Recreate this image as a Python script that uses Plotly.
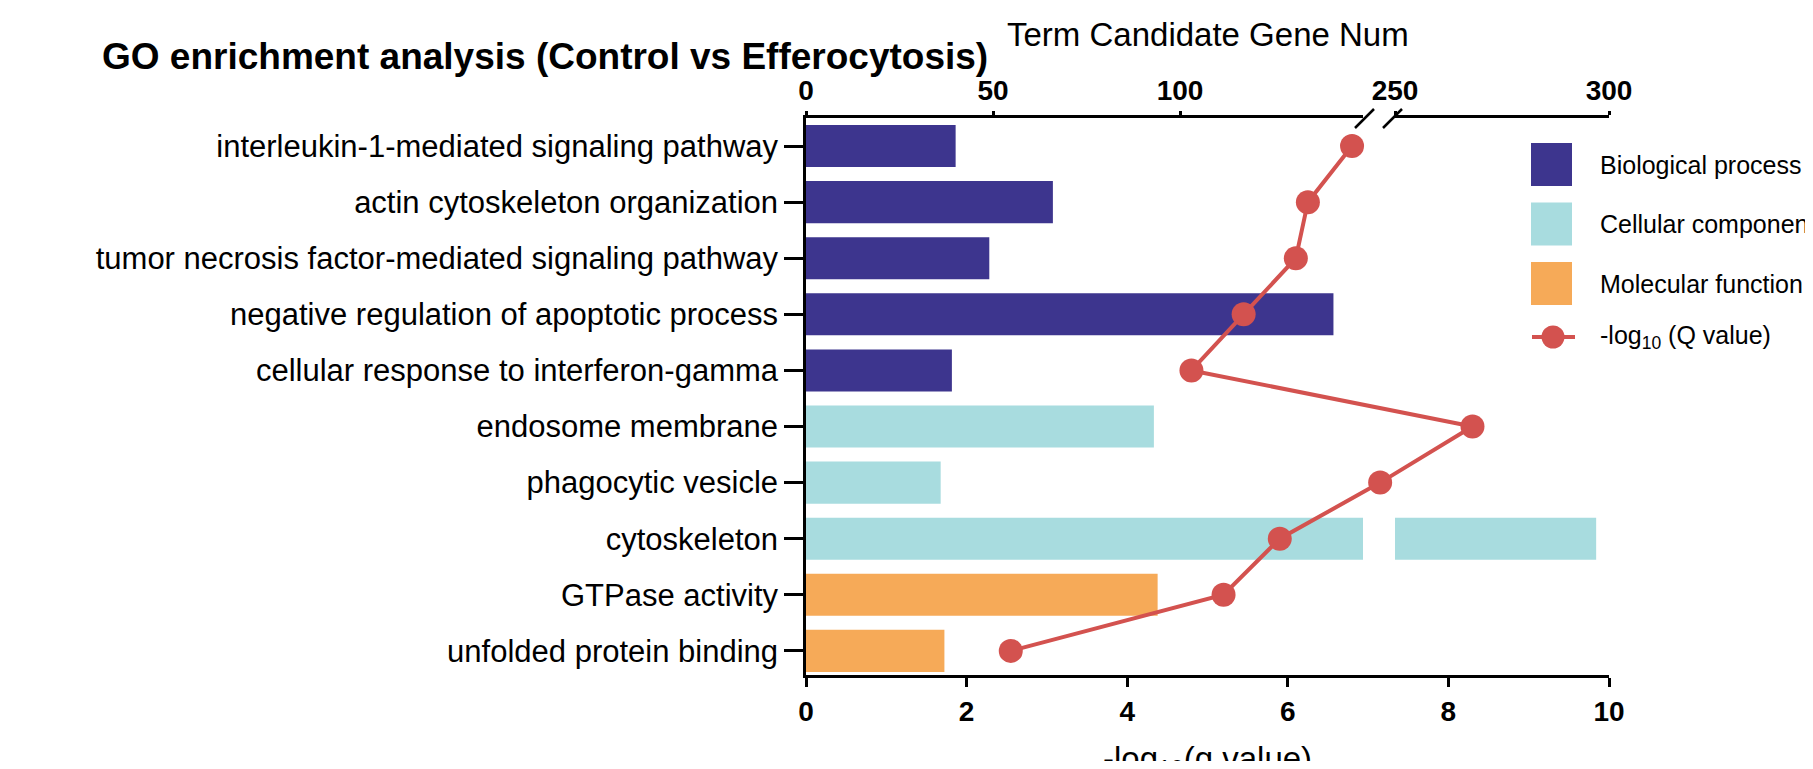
import plotly.graph_objects as go


terms = [
    "interleukin-1-mediated signaling pathway",
    "actin cytoskeleton organization",
    "tumor necrosis factor-mediated signaling pathway",
    "negative regulation of apoptotic process",
    "cellular response to interferon-gamma",
    "endosome membrane",
    "phagocytic vesicle",
    "cytoskeleton",
    "GTPase activity",
    "unfolded protein binding",
]
groups = ["Biological process"] * 5 + ["Cellular component"] * 3 + ["Molecular function"] * 2
gene_num = [40, 66, 49, 141, 39, 93, 36, 297, 94, 37]
neg_log_q = [6.8, 6.25, 6.1, 5.45, 4.8, 8.3, 7.15, 5.9, 5.2, 2.55]

group_names = ["Biological process", "Cellular component", "Molecular function"]
group_colors = ["#3D358E", "#A8DCDF", "#F6AA58"]
q_label = "-log<sub>10</sub> (Q value)"

top_ticks_left = [0, 50, 100]
top_ticks_right = [250, 300]
bottom_ticks = [0, 2, 4, 6, 8, 10]

FONT = "Liberation Sans, Arial, sans-serif"
RED = "#D3524F"


# window pixel -> paper coords (plot area is 806..1609 x 118..675 in the window)
def px(x):
    return (x - 806) / 803


def py(y):
    return (675 - y) / 557


color_of = dict(zip(group_names, group_colors))
bar_colors = [color_of[g] for g in groups]

fig = go.Figure()

# same bars on both halves of the broken top axis
for ax in ["x", "x2"]:
    fig.add_trace(go.Bar(
        x=gene_num,
        y=terms,
        orientation="h",
        marker=dict(color=bar_colors, line_width=0),
        xaxis=ax,
        yaxis="y",
        showlegend=False,
        hoverinfo="skip",
    ))

fig.add_trace(go.Scatter(
    x=neg_log_q,
    y=terms,
    mode="lines+markers",
    xaxis="x3",
    yaxis="y",
    line=dict(color=RED, width=4),
    marker=dict(size=24, color=RED),
    showlegend=False,
))

axis_style = dict(
    showline=True,
    linecolor="black",
    linewidth=2.5,
    ticks="outside",
    tickwidth=2.5,
    tickcolor="black",
    showgrid=False,
    zeroline=False,
    tickfont=dict(family=FONT, size=28, color="black", weight="bold"),
)

fig.update_layout(
    width=1797,
    height=753,
    margin=dict(l=798, r=196, t=110, b=86),
    paper_bgcolor="white",
    plot_bgcolor="rgba(0,0,0,0)",
    font=dict(family=FONT, color="black"),
    bargap=0.25,
    xaxis=dict(
        axis_style,
        domain=[0, px(1363)],
        range=[0, 148.9],
        side="top",
        anchor="y",
        tickvals=top_ticks_left,
        ticklen=4,
        ticklabelstandoff=0,
    ),
    xaxis2=dict(
        axis_style,
        domain=[px(1395), 1],
        range=[250, 300],
        side="top",
        anchor="y",
        tickvals=top_ticks_right,
        ticklen=4,
        ticklabelstandoff=0,
    ),
    xaxis3=dict(
        axis_style,
        domain=[0, 1],
        range=[0, 10],
        side="bottom",
        anchor="y",
        tickvals=bottom_ticks,
        ticklen=9,
        ticklabelstandoff=1,
    ),
    yaxis=dict(
        axis_style,
        domain=[0, 1],
        type="category",
        categoryarray=terms,
        range=[9.43, -0.5],
        anchor="x3",
        ticklen=19,
        tickfont=dict(family=FONT, size=31, color="black"),
    ),
)

fig.add_annotation(
    text="<b>GO enrichment analysis (Control vs Efferocytosis)</b>", showarrow=False,
    xref="paper", yref="paper", x=px(100), xanchor="left", y=py(56), yanchor="middle",
    font=dict(family=FONT, size=37, color="black"),
)
fig.add_annotation(
    text="Term Candidate Gene Num", showarrow=False,
    xref="paper", yref="paper", x=0.5, y=py(35), yanchor="middle",
    font=dict(family=FONT, size=33, color="black"),
)
fig.add_annotation(
    text="-log<sub>10</sub>(q value)", showarrow=False,
    xref="paper", yref="paper", x=0.5, y=py(738), yanchor="top",
    font=dict(family=FONT, size=33, color="black"),
)

# axis break marks
for x0 in [1355, 1383]:
    fig.add_shape(type="line", xref="paper", yref="paper",
                  x0=px(x0), y0=py(128), x1=px(x0 + 19), y1=py(109),
                  line=dict(color="black", width=2.5))

# legend drawn by hand so the swatches can be large
for i, (name, col) in enumerate(zip(group_names, group_colors)):
    top = 143 + i * 59.5
    fig.add_shape(type="rect", xref="paper", yref="paper",
                  x0=px(1531), x1=px(1572), y0=py(top), y1=py(top + 43),
                  fillcolor=col, line_width=0)
    fig.add_annotation(text=name, showarrow=False, xref="paper", yref="paper",
                       x=px(1598), xanchor="left", y=py(top + 21.5), yanchor="middle",
                       font=dict(family=FONT, size=25, color="black"))

fig.add_shape(type="line", xref="paper", yref="paper",
              x0=px(1532), x1=px(1575), y0=py(337), y1=py(337),
              line=dict(color=RED, width=4))
fig.add_shape(type="circle", xref="paper", yref="paper",
              x0=px(1541.5), x1=px(1564.5), y0=py(325.5), y1=py(348.5),
              fillcolor=RED, line_width=0)
fig.add_annotation(text=q_label, showarrow=False, xref="paper", yref="paper",
                   x=px(1598), xanchor="left", y=py(337), yanchor="middle",
                   font=dict(family=FONT, size=25, color="black"))

fig.write_html("out.html")
